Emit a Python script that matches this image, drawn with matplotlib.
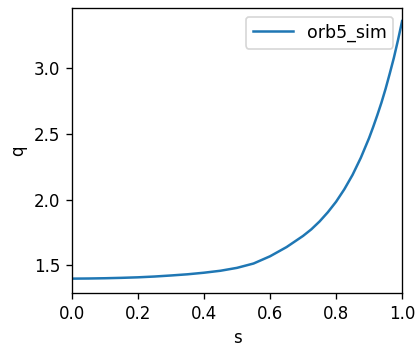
import matplotlib
matplotlib.use("Agg")
import matplotlib.pyplot as plt

# safety factor profile
s = [0.0, 0.05, 0.1, 0.15, 0.2, 0.25, 0.3, 0.35, 0.4, 0.45, 0.5, 0.55,
     0.6, 0.65, 0.7, 0.725, 0.75, 0.775, 0.8, 0.825, 0.85, 0.875, 0.9,
     0.9125, 0.925, 0.9375, 0.95, 0.9625, 0.975, 0.9875, 1.0]
q = [1.400, 1.401, 1.403, 1.406, 1.410, 1.416, 1.424, 1.433, 1.445, 1.460, 1.482, 1.515,
     1.570, 1.640, 1.725, 1.775, 1.835, 1.905, 1.985, 2.08, 2.19, 2.32, 2.47,
     2.555, 2.645, 2.74, 2.845, 2.96, 3.08, 3.215, 3.36]

fig = plt.figure(figsize=(418 / 120, 344 / 120), dpi=120)
ax = fig.add_axes([0.172, 0.148, 0.79, 0.829])
ax.plot(s, q, label="orb5_sim")
ax.set_xlim(0, 1)
ax.set_ylim(1.29, 3.46)
ax.set_xlabel("s")
ax.set_ylabel("q")
ax.legend(loc="upper right", handlelength=2.3, fontsize=10.4)

fig.savefig("out.png", dpi=120)
